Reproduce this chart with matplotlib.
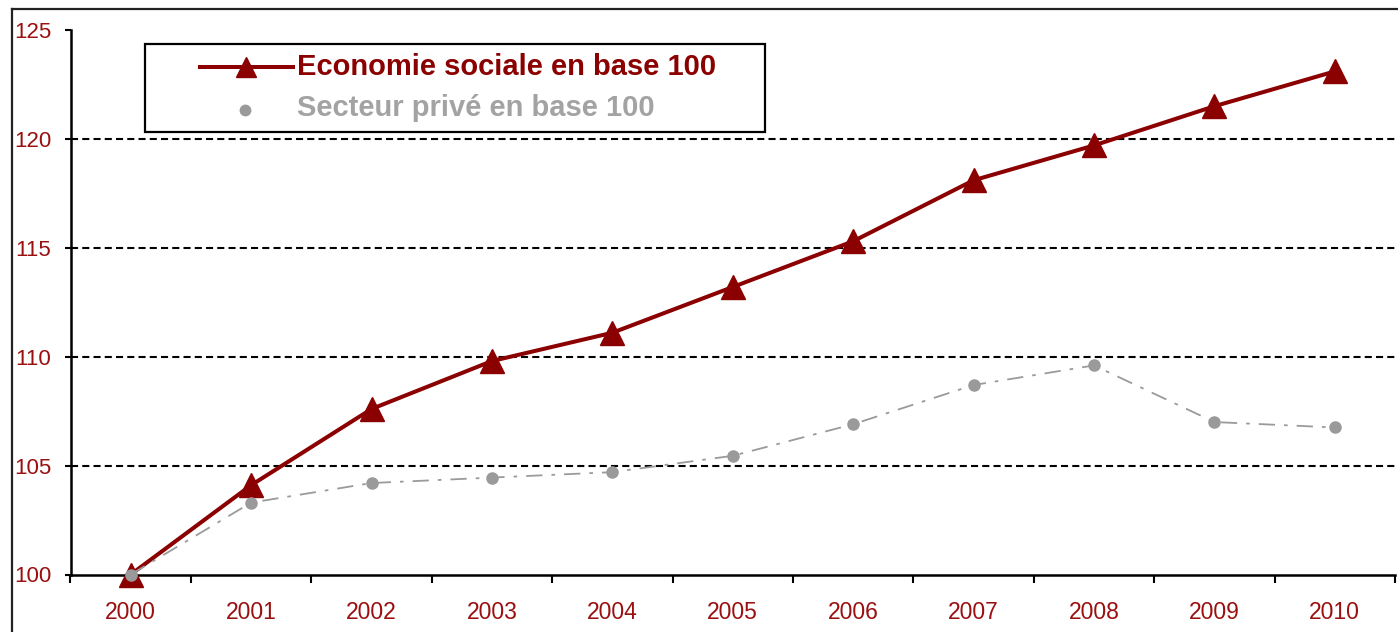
import matplotlib
matplotlib.use("Agg")
import matplotlib.pyplot as plt
from matplotlib.lines import Line2D
from matplotlib.patches import Rectangle

plt.rcParams['font.family'] = ['Liberation Sans', 'DejaVu Sans']

years = ["2000", "2001", "2002", "2003", "2004", "2005", "2006", "2007", "2008", "2009", "2010"]
economie_sociale = [100.0, 104.1, 107.6, 109.8, 111.1, 113.2, 115.3, 118.1, 119.7, 121.5, 123.1]
secteur_prive = [100.0, 103.3, 104.2, 104.45, 104.7, 105.45, 106.9, 108.7, 109.6, 107.0, 106.75]
label_es = "Economie sociale en base 100"
label_sp = "Secteur privé en base 100"
y_ticks = [100, 105, 110, 115, 120, 125]
grid_levels = [105, 110, 115, 120]

W, H = 1398, 632
RED = '#8B0000'
TXT_RED = '#9A0F0F'
GRAY = '#9A9A9A'
GRAY_TXT = '#A3A3A3'

fig = plt.figure(figsize=(W / 100, H / 100), dpi=100)
fig.patch.set_facecolor('white')

def fx(x):
    return x / W

def fy(y):
    return 1 - y / H

ax = fig.add_axes([fx(70.5), fy(574.5), fx(1395) - fx(70.5), fy(30) - fy(574.5)])
x = list(range(len(years)))

for g in grid_levels:
    ax.axhline(g, color='black', lw=1.5, linestyle=(0, (3.4, 2.0)), zorder=1)

ax.plot(x, economie_sociale, color=RED, lw=2.9, marker='^', markersize=17,
        markerfacecolor=RED, markeredgecolor=RED, zorder=3, clip_on=False)
ax.plot(x, secteur_prive, color=GRAY, lw=1.3, linestyle=(0, (9, 5, 2, 5)),
        marker='o', markersize=8, markerfacecolor=GRAY, markeredgecolor=GRAY,
        zorder=4, clip_on=False)

ax.set_xlim(-0.5, len(years) - 0.5)
ax.set_ylim(100, 125)
ax.set_yticks(y_ticks)
ax.set_yticklabels([str(v) for v in y_ticks])
ax.set_xticks(x)
ax.set_xticklabels(years)
ax.set_xticks([i - 0.5 for i in range(len(years) + 1)], minor=True)

ax.tick_params(axis='y', direction='out', length=4, width=1.5, colors='black',
               labelcolor=TXT_RED, labelsize=16, pad=10)
ax.tick_params(axis='x', which='major', length=0, labelcolor=TXT_RED,
               labelsize=16.5, pad=19)
ax.tick_params(axis='x', which='minor', direction='out', length=6, width=1.5,
               colors='black')

for s in ['top', 'right']:
    ax.spines[s].set_visible(False)
for s in ['left', 'bottom']:
    ax.spines[s].set_linewidth(1.8)
    ax.spines[s].set_color('black')

# outer frame (top and left edges)
fig.add_artist(Line2D([fx(12), 1.0], [fy(9), fy(9)], transform=fig.transFigure,
                      color='#222222', lw=1.6))
fig.add_artist(Line2D([fx(12), fx(12)], [fy(9), 0.0], transform=fig.transFigure,
                      color='#222222', lw=1.6))

# legend box
fig.add_artist(Rectangle((fx(145), fy(132)), fx(765) - fx(145), fy(44) - fy(132),
                         transform=fig.transFigure, facecolor='white',
                         edgecolor='black', lw=1.6, zorder=5))
fig.add_artist(Line2D([fx(200), fx(293)], [fy(67), fy(67)], transform=fig.transFigure,
                      color=RED, lw=2.9, zorder=6))
fig.add_artist(Line2D([fx(246)], [fy(67)], transform=fig.transFigure, color=RED,
                      marker='^', markersize=15, markerfacecolor=RED,
                      markeredgecolor=RED, zorder=6))
fig.add_artist(Line2D([fx(245)], [fy(110)], transform=fig.transFigure, color=GRAY,
                      marker='o', markersize=7.5, markerfacecolor=GRAY,
                      markeredgecolor=GRAY, lw=0, zorder=6))
fig.text(fx(297), fy(67), label_es, color=RED, fontsize=21, fontweight='bold',
         ha='left', va='center', zorder=7)
fig.text(fx(297), fy(108), label_sp, color=GRAY_TXT, fontsize=21, fontweight='bold',
         ha='left', va='center', zorder=7)

fig.savefig('out.png', dpi=100, facecolor='white')
